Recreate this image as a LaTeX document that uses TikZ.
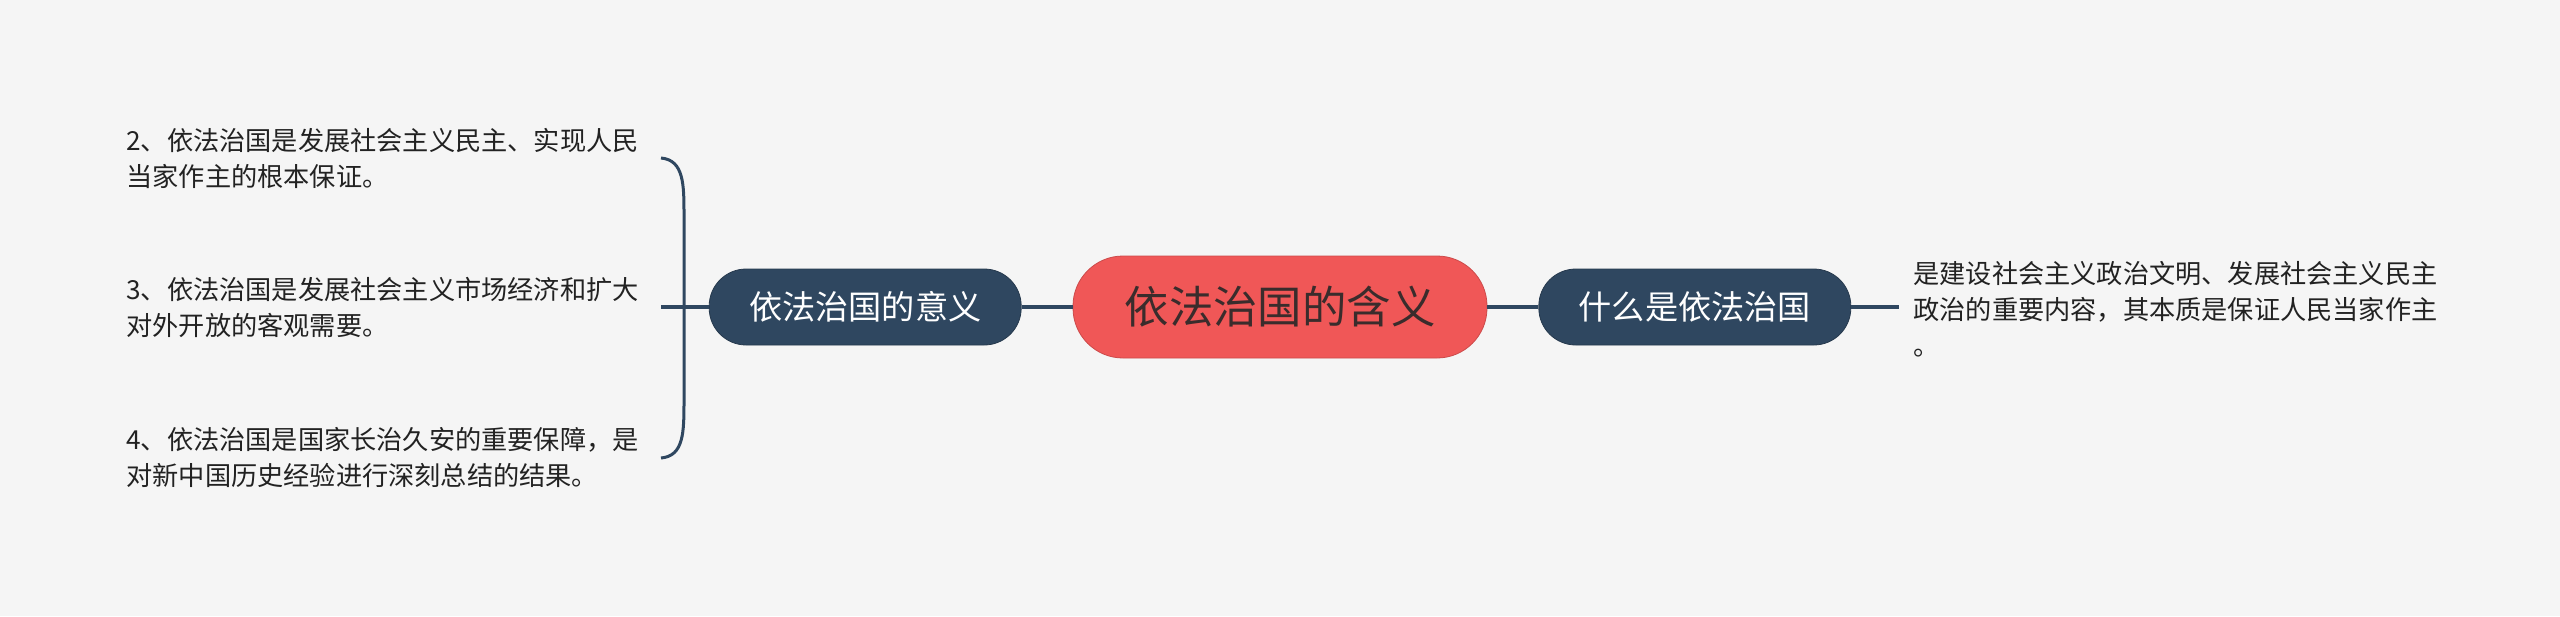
\documentclass[tikz,border=0pt]{standalone}
\usepackage{fontspec}
\setmainfont{Noto Sans CJK SC}
\usetikzlibrary{positioning}

\definecolor{bgcol}{HTML}{F5F5F5}
\definecolor{rootred}{HTML}{F05757}
\definecolor{roottext}{HTML}{3A2C2C}
\definecolor{slate}{HTML}{2F4760}
\definecolor{leaftext}{HTML}{222222}

\tikzset{
  root/.style={fill=rootred,draw=rootred!85!black,line width=0.4pt,text=roottext,
    minimum width=207pt,minimum height=51pt,rounded corners=25pt,
    font=\fontsize{22.2pt}{26pt}\selectfont},
  topic/.style={fill=slate,draw=slate!80!black,line width=0.4pt,text=white,
    minimum width=156pt,minimum height=38pt,rounded corners=18.5pt,
    font=\fontsize{16.6pt}{20pt}\selectfont},
  leaf/.style={anchor=west,inner sep=0pt,align=left,text=leaftext,
    font=\fontsize{13.1pt}{18pt}\selectfont},
  link/.style={draw=slate,line width=2pt},
  brace/.style={draw=slate,line width=1.5pt}
}

\begin{document}
\begin{tikzpicture}[x=0.5pt,y=-0.5pt]
\fill[bgcol] (0,0) rectangle (2560,616);
\useasboundingbox (0,0) rectangle (2560,616);

\node[root] (root) at (1280,307) {依法治国的含义};
\node[topic,left=25.5pt of root] (meaning) {依法治国的意义};
\node[topic,right=25.5pt of root] (what) {什么是依法治国};

\draw[link] (root) -- (meaning);
\draw[link] (root) -- (what);

% left branch
\coordinate (bjoin) at (661,307);
\coordinate (btop) at (661,158);
\coordinate (bbot) at (661,458);
\draw[link] (meaning.west) -- (bjoin);
\draw[brace] (btop) .. controls (684,160) and (684,185) .. (684,215)
  -- (684,400) .. controls (684,432) and (684,456) .. (bbot);

\node[leaf] (l2) at (126,158) {2、依法治国是发展社会主义民主、实现人民\\当家作主的根本保证。};
\node[leaf] (l3) at (126,307) {3、依法治国是发展社会主义市场经济和扩大\\对外开放的客观需要。};
\node[leaf] (l4) at (126,457) {4、依法治国是国家长治久安的重要保障，是\\对新中国历史经验进行深刻总结的结果。};

% right branch
\coordinate (rend) at (1899,307);
\draw[link] (what.east) -- (rend);
\node[leaf] (r1) at (1913,309) {是建设社会主义政治文明、发展社会主义民主\\政治的重要内容，其本质是保证人民当家作主\\。};
\end{tikzpicture}
\end{document}
